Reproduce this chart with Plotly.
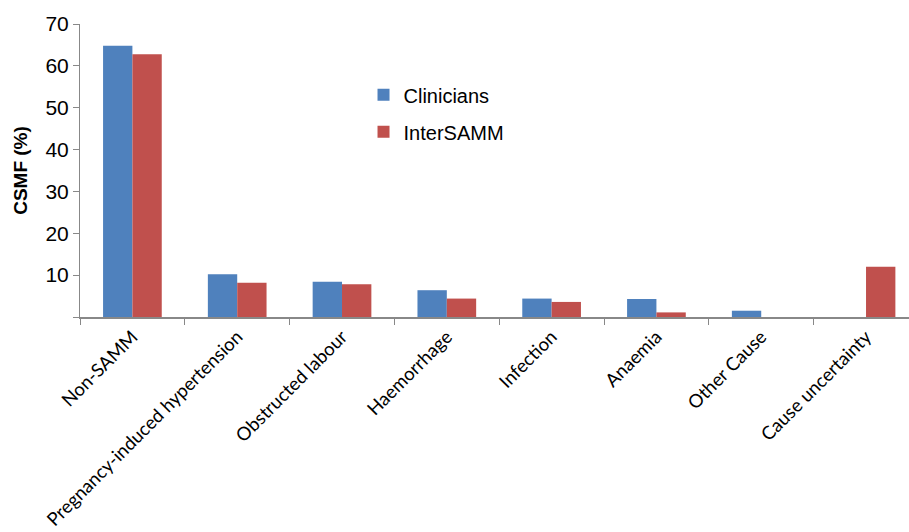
import plotly.graph_objects as go

categories = ["Non-SAMM", "Pregnancy-induced hypertension", "Obstructed labour",
              "Haemorrhage", "Infection", "Anaemia", "Other Cause", "Cause uncertainty"]
clinicians = [64.8, 10.2, 8.4, 6.4, 4.4, 4.3, 1.5, 0.0]
intersamm = [62.8, 8.2, 7.8, 4.4, 3.6, 1.1, 0.0, 12.0]
y_ticks = [0, 10, 20, 30, 40, 50, 60, 70]
y_tick_labels = ["", "10", "20", "30", "40", "50", "60", "70"]

BLUE = "#4F81BD"
RED = "#C0504D"

fig = go.Figure()
fig.add_trace(go.Bar(x=categories, y=clinicians, name="Clinicians",
                     marker=dict(color=BLUE, line=dict(width=0)),
                     legendgroup="a"))
fig.add_trace(go.Bar(x=categories, y=intersamm, name="InterSAMM",
                     marker=dict(color=RED, line=dict(width=0)),
                     legendgroup="b"))

fig.update_layout(
    width=909, height=532,
    margin=dict(l=80, r=0, t=24, b=215),
    paper_bgcolor="white", plot_bgcolor="white",
    barmode="group", bargap=0.44, bargroupgap=0,
    font=dict(family="Liberation Sans, Arial, sans-serif", color="#000"),
    showlegend=True,
    legend=dict(x=0.342, y=0.825, xanchor="left", yanchor="top",
                font=dict(size=20, family="Liberation Sans, Arial, sans-serif"),
                traceorder="grouped", tracegroupgap=8,
                itemwidth=30, bgcolor="rgba(0,0,0,0)"),
    xaxis=dict(
        range=[-0.5, 7.41],
        automargin=False,
        showline=True, linecolor="#888", linewidth=1.5,
        ticks="outside", tickson="boundaries", ticklen=6, tickcolor="#888",
        tickangle=-45,
        tickfont=dict(family="Lato, Carlito, sans-serif", size=18.5),
        showgrid=False, zeroline=False,
    ),
    yaxis=dict(
        range=[0, 70],
        automargin=False,
        tickvals=y_ticks, ticktext=y_tick_labels,
        showline=True, linecolor="#888", linewidth=1,
        ticks="outside", ticklen=6, tickcolor="#888",
        tickfont=dict(size=21),
        showgrid=False, zeroline=False,
        title=dict(text="<b>CSMF (%)</b>", font=dict(size=19), standoff=12),
    ),
)

fig.write_html("out.html")
